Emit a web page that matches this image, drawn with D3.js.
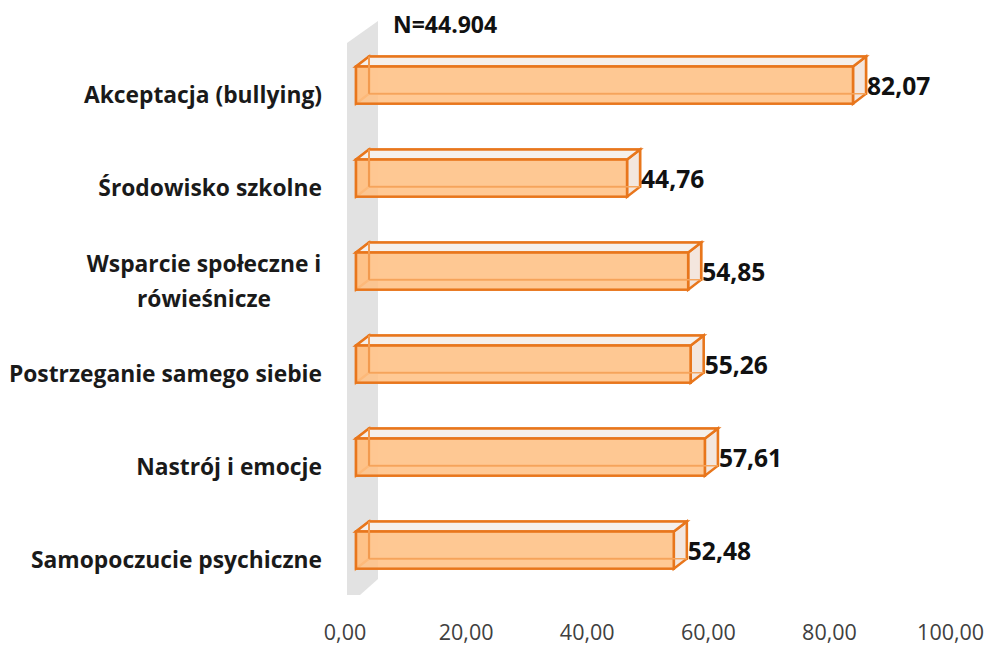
<!DOCTYPE html>
<html>
<head>
<meta charset="utf-8">
<script src="https://cdn.jsdelivr.net/npm/d3@7"></script>
<style>
  html, body { margin: 0; padding: 0; background: #fff; }
  text { font-family: "Open Sans", sans-serif; }
</style>
</head>
<body>
<div id="chart"></div>
<script>
// Data, top bar first
const categories = [
    ["Akceptacja (bullying)"],
    ["Środowisko szkolne"],
    ["Wsparcie społeczne i", "rówieśnicze"],
    ["Postrzeganie samego siebie"],
    ["Nastrój i emocje"],
    ["Samopoczucie psychiczne"]
];
const values = [82.07, 44.76, 54.85, 55.26, 57.61, 52.48];
const tickValues = [0, 20, 40, 60, 80, 100];
const note = "N=44.904";

const fmt = v => v.toFixed(2).replace(".", ",");

const svg = d3.select("#chart")
    .append("svg")
    .attr("width", 989)
    .attr("height", 646)
    .style("display", "block");

// Scales
const x = d3.scaleLinear().domain([0, 100]).range([356, 961.6]);
const y = d3.scaleBand()
    .domain(d3.range(values.length))
    .range([38.6, 596.6])
    .paddingInner(0.6)
    .paddingOuter(0.3);

// 3D offset of the back face
const dx = 13, dy = -10;

// Back wall
svg.append("path")
    .attr("d", d3.line()([
        [x(0) - 9, 43], [x(0) + 22, 21], [x(0) + 22, 579],
        [x(0) + 4, 595], [x(0) - 9, 595]
    ]) + "Z")
    .attr("fill", "#e2e2e2");

// Bars
const bar = svg.selectAll("g.bar")
    .data(values)
    .enter()
    .append("g")
    .attr("class", "bar")
    .attr("transform", (d, i) => `translate(0,${y(i)})`);

const h = y.bandwidth();
const stroke = "#e8761c";

function poly(pts) {
    return d3.line()(pts) + "Z";
}

// back + floor + left faces, all see-through
bar.append("path")
    .attr("d", d => poly([[x(0) + dx, dy], [x(d) + dx, dy], [x(d) + dx, h + dy], [x(0) + dx, h + dy]]))
    .attr("fill", "#f7f1ec")
    .attr("fill-opacity", 0.85)
    .attr("stroke", "#ef9344")
    .attr("stroke-width", 2.5);
bar.append("path")
    .attr("d", d => poly([[x(0), 0], [x(0) + dx, dy], [x(0) + dx, h + dy], [x(0), h]]))
    .attr("fill", "#fbc79a")
    .attr("fill-opacity", 0.8)
    .attr("stroke", "#ef9344")
    .attr("stroke-width", 2.5);
bar.append("path")
    .attr("d", d => poly([[x(d), 0], [x(d) + dx, dy], [x(d) + dx, h + dy], [x(d), h]]))
    .attr("fill", "#f3e6de")
    .attr("stroke", stroke)
    .attr("stroke-width", 2.5);
// top edge face
bar.append("path")
    .attr("d", d => poly([[x(0), 0], [x(0) + dx, dy], [x(d) + dx, dy], [x(d), 0]]))
    .attr("fill", "#f5f0ec")
    .attr("stroke", stroke)
    .attr("stroke-width", 2.5);
// front face
bar.append("rect")
    .attr("x", x(0))
    .attr("y", 0)
    .attr("width", d => x(d) - x(0))
    .attr("height", h)
    .attr("fill", "#ffbf82")
    .attr("fill-opacity", 0.85)
    .attr("stroke", stroke)
    .attr("stroke-width", 2.5);
// bottom line of the back face shows through the front
bar.append("line")
    .attr("x1", x(0) + dx)
    .attr("x2", d => x(d) + dx)
    .attr("y1", h + dy)
    .attr("y2", h + dy)
    .attr("stroke", "#f5a45c")
    .attr("stroke-width", 1.5);
bar.append("line")
    .attr("x1", x(0) + dx)
    .attr("x2", x(0) + dx)
    .attr("y1", dy)
    .attr("y2", h + dy)
    .attr("stroke", "#f29a4e")
    .attr("stroke-width", 2);

// Value labels
bar.append("text")
    .attr("x", d => x(d) + dx + 1)
    .attr("y", h / 2 + 1.5)
    .attr("dy", "0.35em")
    .attr("font-size", 24.6)
    .attr("font-weight", 700)
    .attr("fill", "#111")
    .text(fmt);

// Category labels
svg.selectAll("g.cat")
    .data(categories)
    .enter()
    .append("g")
    .attr("class", "cat")
    .each(function (lines, i) {
        const cy = y(i) + h / 2 + 10;
        const g = d3.select(this);
        if (lines.length === 1) {
            g.append("text")
                .attr("x", 322)
                .attr("y", cy)
                .attr("text-anchor", "end")
                .attr("dy", "0.35em")
                .attr("font-size", 22.8)
                .attr("font-weight", 700)
                .attr("fill", "#1a1a1a")
                .text(lines[0]);
        } else {
            lines.forEach((t, j) => {
                g.append("text")
                    .attr("x", 204)
                    .attr("y", cy + (j - 0.5) * 35)
                    .attr("text-anchor", "middle")
                    .attr("dy", "0.35em")
                    .attr("font-size", 22.8)
                    .attr("font-weight", 700)
                    .attr("fill", "#1a1a1a")
                    .text(t);
            });
        }
    });

// X axis, labels sit left of the front plane
const axis = svg.append("g")
    .attr("transform", "translate(-11.5,632)")
    .call(d3.axisBottom(x).tickValues(tickValues).tickFormat(fmt).tickSize(0).tickPadding(0));
axis.select(".domain").remove();
axis.selectAll("text")
    .attr("y", 0)
    .attr("dy", "0.35em")
    .attr("font-size", 21.5)
    .attr("fill", "#404040")
    .style("font-family", '"Open Sans", sans-serif');

// Sample size note
svg.append("text")
    .attr("x", 393)
    .attr("y", 33)
    .attr("font-size", 23)
    .attr("font-weight", 700)
    .attr("fill", "#111")
    .text(note);
</script>
</body>
</html>
